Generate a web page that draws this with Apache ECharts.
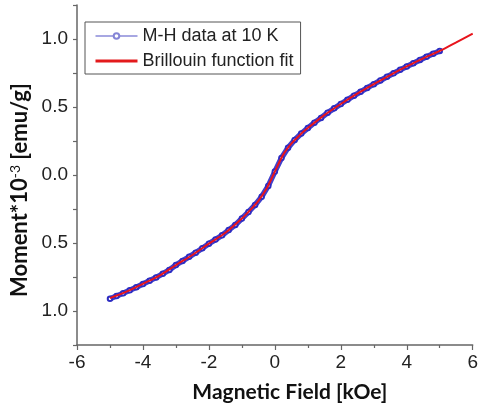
<!DOCTYPE html>
<html>
<head>
<meta charset="utf-8">
<script src="https://cdn.jsdelivr.net/npm/echarts@6/dist/echarts.min.js"></script>
<style>
html,body{margin:0;padding:0;background:#fff;}
#chart{width:481px;height:414px;}
</style>
</head>
<body>
<div id="chart"></div>
<script>
// Measured M-H data at 10 K (field in kOe, moment *10^-3 emu/g)
const dataField = [-5.0,-4.8,-4.6,-4.4,-4.2,-4.0,-3.8,-3.6,-3.4,-3.2,-3.0,-2.8,-2.6,-2.4,-2.2,-2.0,-1.8,-1.6,-1.4,-1.2,-1.0,-0.8,-0.6,-0.4,-0.2,0.0,0.2,0.4,0.6,0.8,1.0,1.2,1.4,1.6,1.8,2.0,2.2,2.4,2.6,2.8,3.0,3.2,3.4,3.6,3.8,4.0,4.2,4.4,4.6,4.8,5.0];
const dataMoment = [-0.910,-0.890,-0.870,-0.848,-0.825,-0.802,-0.778,-0.753,-0.727,-0.698,-0.662,-0.632,-0.602,-0.571,-0.538,-0.505,-0.475,-0.443,-0.405,-0.367,-0.320,-0.272,-0.220,-0.160,-0.080,0.025,0.125,0.200,0.258,0.305,0.345,0.385,0.420,0.458,0.490,0.522,0.553,0.583,0.612,0.640,0.668,0.695,0.722,0.748,0.773,0.798,0.822,0.846,0.869,0.891,0.912];
// Brillouin function fit
const fitField = [-5,-4.5,-4,-3.5,-3,-2.5,-2,-1.5,-1,-0.75,-0.5,-0.25,0,0.25,0.5,0.75,1,1.5,2,2.5,3,3.5,4,4.5,5,5.5,6];
const fitMoment = [-0.905,-0.858,-0.800,-0.740,-0.662,-0.588,-0.505,-0.425,-0.320,-0.258,-0.190,-0.100,0.025,0.148,0.230,0.293,0.345,0.440,0.522,0.598,0.668,0.735,0.798,0.858,0.912,0.975,1.040];
// Axis ticks
const xTicks = [-6,-4,-2,0,2,4,6];

const chart = echarts.init(document.getElementById('chart'), null, {renderer:'canvas'});
const axisColor = '#666';
const labelFont = 'Liberation Sans, Arial, sans-serif';
chart.setOption({
  animation:false,
  backgroundColor:'#fff',
  grid:{left:77,right:4,top:5,bottom:69,containLabel:false},
  legend:{
    orient:'vertical',left:85,top:22,
    padding:[5,7,4,9],
    itemWidth:42,itemHeight:7,itemGap:7,
    backgroundColor:'#fff',borderColor:'#555',borderWidth:1,borderRadius:0,
    textStyle:{fontFamily:labelFont,fontSize:18,color:'#222'},
    data:[
      {name:'M-H data at 10 K',itemStyle:{color:'#8585d6'},lineStyle:{color:'#8a8ad8',width:1.5}},
      {name:'Brillouin function fit',itemStyle:{opacity:0},lineStyle:{color:'#e31a1c',width:3}}
    ]
  },
  xAxis:{
    type:'value',min:-6,max:6,interval:2,
    name:'Magnetic Field [kOe]',nameLocation:'middle',nameGap:37,
    nameTextStyle:{fontFamily:'Lato, sans-serif',fontWeight:'bold',fontSize:21,color:'#111',padding:[0,0,0,30]},
    axisLine:{show:true,onZero:false,lineStyle:{color:axisColor,width:1.5}},
    axisTick:{show:true,length:5,lineStyle:{color:axisColor,width:1.2}},
    minorTick:{show:true,splitNumber:2,length:3,lineStyle:{color:axisColor,width:1.2}},
    axisLabel:{fontFamily:labelFont,fontSize:19,color:'#222',margin:8,
      customValues:xTicks,formatter:v=>String(v)},
    splitLine:{show:false}
  },
  yAxis:{
    type:'value',min:-1.25,max:1.25,interval:0.25,
    name:'{a|Moment*10}{s|-3}{a| [emu/g]}',nameLocation:'middle',nameGap:45,nameRotate:90,
    nameTextStyle:{padding:[0,30,0,0],
      rich:{a:{fontFamily:'Lato, sans-serif',fontWeight:'bold',fontSize:22,color:'#111'},
            s:{fontFamily:'Lato, sans-serif',fontSize:14,color:'#111',verticalAlign:'top',padding:[0,0,9,0]}}},
    axisLine:{show:true,onZero:false,lineStyle:{color:axisColor,width:1.5}},
    axisTick:{show:true,length:4,lineStyle:{color:axisColor,width:1.2}},
    axisLabel:{fontFamily:labelFont,fontSize:19,color:'#222',margin:9,
      formatter:function(v){
        const r=Math.round(v*100)/100;
        if (Math.abs(Math.round(r*2)-r*2)<1e-6) return Math.abs(r).toFixed(1);
        return '';
      }},
    splitLine:{show:false}
  },
  series:[
    {
      name:'M-H data at 10 K',type:'line',
      data:dataField.map((x,i)=>[x,dataMoment[i]]),
      showAllSymbol:true,symbol:'emptyCircle',symbolSize:4.5,
      itemStyle:{color:'#2c2cc2',borderWidth:1},
      lineStyle:{color:'#4040cc',width:5.5},
      z:2
    },
    {
      name:'Brillouin function fit',type:'line',
      data:fitField.map((x,i)=>[x,fitMoment[i]]),
      smooth:0.3,symbol:'none',
      itemStyle:{color:'#e8141c'},
      lineStyle:{color:'#e8141c',width:2},
      z:3
    }
  ]
});
</script>
</body>
</html>
